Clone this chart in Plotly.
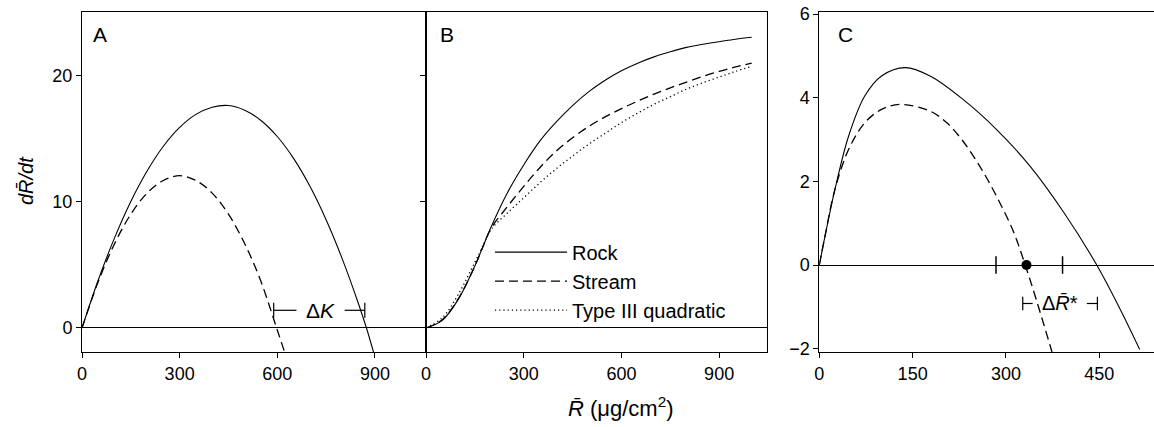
import plotly.graph_objects as go

# ---------------- data ----------------
# Panel A: logistic growth curves
A_R_rock = [0, 50, 100, 150, 200, 250, 300, 350, 400, 450, 500, 550, 600, 650, 700, 750, 800, 850, 875, 900]
A_rock = [0, 3.80, 7.13, 10.01, 12.42, 14.38, 15.87, 16.90, 17.47, 17.60, 17.23, 16.42, 15.15, 13.42, 11.23, 8.57, 5.45, 1.88, -0.08, -2.3]
A_R_stream = [0, 50, 100, 150, 200, 250, 300, 350, 400, 450, 500, 550, 598, 625]
A_stream = [0, 3.67, 6.67, 9.0, 10.67, 11.67, 12.05, 11.67, 10.67, 9.0, 6.67, 3.67, 0, -2.1]

# Panel B: functional responses
B_R = [0, 50, 100, 150, 175, 200, 250, 300, 350, 400, 450, 500, 550, 600, 650, 700, 750, 800, 850, 900, 950, 1000]
B_rock = [0, 0.6, 2.3, 4.9, 6.45, 8.0, 10.7, 12.9, 14.8, 16.3, 17.6, 18.7, 19.6, 20.35, 20.95, 21.45, 21.85, 22.2, 22.45, 22.65, 22.85, 23.0]
B_stream = [0, 0.65, 2.35, 4.9, 6.45, 7.9, 9.6, 11.2, 12.7, 14.0, 15.05, 15.95, 16.7, 17.35, 17.95, 18.5, 19.0, 19.45, 19.9, 20.3, 20.65, 20.95]
B_type3 = [0, 0.8, 2.7, 5.2, 6.5, 7.8, 9.1, 10.3, 11.5, 12.6, 13.6, 14.55, 15.4, 16.25, 17.0, 17.7, 18.3, 18.9, 19.4, 19.85, 20.3, 20.7]

# Panel C: net growth with grazing
C_R_rock = [0, 9, 25, 47, 73, 100, 138, 178, 231, 285, 339, 392, 446, 483, 515]
C_rock = [0, 0.68, 1.8, 3.08, 4.04, 4.52, 4.72, 4.52, 3.96, 3.24, 2.36, 1.28, 0, -1.04, -2.02]
C_R_stream = [0, 9, 25, 47, 73, 100, 130, 178, 205, 231, 258, 285, 312, 331, 349, 374]
C_stream = [0, 0.68, 1.8, 2.76, 3.4, 3.72, 3.84, 3.68, 3.4, 2.96, 2.36, 1.64, 0.8, 0, -0.84, -2.08]
C_eq_R = [333]
C_eq_val = [0]
C_ci = [284, 391]          # interval ticks on the zero line

A_xticks = [0, 300, 600, 900]
B_xticks = [0, 300, 600, 900]
C_xticks = [0, 150, 300, 450]
AB_yticks = [0, 10, 20]
C_yticks = [-2, 0, 2, 4, 6]

# ---------------- figure ----------------
FONT = "Liberation Sans, Arial, Helvetica, sans-serif"
BLK = "black"
thin = 1.1
dash_pat = "9px,5px"
dot_pat = "1.2px,3px"

# plot area spans page px x 82..1154, y 12..352 (page body margin removed below)
W, H = 1154, 427
PL, PT, PW, PH = 82, 12, 1072, 340

fig = go.Figure()

fig.add_trace(go.Scatter(x=A_R_rock, y=A_rock, mode="lines", line=dict(color=BLK, width=thin, shape="spline"),
                         xaxis="x", yaxis="y", showlegend=False))
fig.add_trace(go.Scatter(x=A_R_stream, y=A_stream, mode="lines",
                         line=dict(color=BLK, width=1.3, dash=dash_pat, shape="spline"),
                         xaxis="x", yaxis="y", showlegend=False))
fig.add_trace(go.Scatter(x=B_R, y=B_rock, mode="lines", name="Rock",
                         line=dict(color=BLK, width=thin, shape="spline"), xaxis="x2", yaxis="y2"))
fig.add_trace(go.Scatter(x=B_R, y=B_stream, mode="lines", name="Stream",
                         line=dict(color=BLK, width=1.3, dash=dash_pat, shape="spline"), xaxis="x2", yaxis="y2"))
fig.add_trace(go.Scatter(x=B_R, y=B_type3, mode="lines", name="Type III quadratic",
                         line=dict(color=BLK, width=1.3, dash=dot_pat, shape="spline"), xaxis="x2", yaxis="y2"))
fig.add_trace(go.Scatter(x=C_R_rock, y=C_rock, mode="lines", line=dict(color=BLK, width=thin, shape="spline"),
                         xaxis="x3", yaxis="y3", showlegend=False))
fig.add_trace(go.Scatter(x=C_R_stream, y=C_stream, mode="lines",
                         line=dict(color=BLK, width=1.3, dash=dash_pat, shape="spline"),
                         xaxis="x3", yaxis="y3", showlegend=False))
fig.add_trace(go.Scatter(x=C_eq_R, y=C_eq_val, mode="markers", marker=dict(color=BLK, size=10),
                         xaxis="x3", yaxis="y3", showlegend=False))

axis_common = dict(showline=True, linecolor=BLK, linewidth=1, ticks="outside", ticklen=5, tickwidth=1,
                   tickcolor=BLK, showgrid=False, zeroline=False, automargin=False,
                   ticklabeloverflow="allow",
                   tickfont=dict(family=FONT, size=18, color=BLK))
zl = {"zeroline": True, "zerolinecolor": BLK, "zerolinewidth": 1}

fig.update_layout(
    width=W, height=H,
    margin=dict(l=PL, r=W - PL - PW, t=PT, b=H - PT - PH, autoexpand=False),
    paper_bgcolor="white", plot_bgcolor="white",
    font=dict(family=FONT, size=18, color=BLK),
    xaxis=dict(domain=[0, 0.3209], range=[0, 1057], tickvals=A_xticks, mirror=True, anchor="y", **axis_common),
    xaxis2=dict(domain=[0.3209, 0.639], range=[0, 1047], tickvals=B_xticks, mirror=True, anchor="y2", **axis_common),
    xaxis3=dict(domain=[0.6878, 1.0], range=[0, 538], tickvals=C_xticks, mirror=True, anchor="y3", **axis_common),
    yaxis=dict(domain=[0, 1], range=[-1.9, 25.0], tickvals=AB_yticks, mirror=True, anchor="x",
               **{**axis_common, **zl}),
    yaxis2=dict(domain=[0, 1], range=[-1.9, 25.0], tickvals=AB_yticks, mirror=True, anchor="x2",
                showticklabels=False, **{**axis_common, **zl}),
    yaxis3=dict(domain=[0, 1], range=[-2.08, 6.05], tickvals=C_yticks, mirror=False, anchor="x3",
                **{**axis_common, **zl, "zerolinewidth": 1.3}),
    legend=dict(x=(490 - PL) / PW, y=0.351, xanchor="left", yanchor="top", bgcolor="rgba(0,0,0,0)",
                font=dict(family=FONT, size=20, color=BLK), itemwidth=72, tracegroupgap=0),
)


def px(xp):
    return (xp - PL) / PW


def py(yp):
    return (PT + PH - yp) / PH


ann = []
for txt, xp, yp in [("A", 100, 34), ("B", 447, 35), ("C", 845, 34.5)]:
    ann.append(dict(text=txt, x=px(xp), y=py(yp), xref="paper", yref="paper",
                    showarrow=False, xanchor="center", yanchor="middle",
                    font=dict(family=FONT, size=21, color=BLK)))
ann.append(dict(text="<i>dR̄/dt</i>", x=px(26), y=py(181), xref="paper", yref="paper",
                showarrow=False, textangle=-90, xanchor="center", yanchor="middle",
                font=dict(family=FONT, size=20, color=BLK)))
ann.append(dict(text="<i>R̄</i> (μg/cm<sup>2</sup>)", x=px(621), y=py(407),
                xref="paper", yref="paper", showarrow=False, xanchor="center", yanchor="middle",
                font=dict(family=FONT, size=22, color=BLK)))
dK_left, dK_right, dK_y = 589, 869, 1.4
ann.append(dict(text="Δ<i>K</i>", x=734, y=dK_y, xref="x", yref="y", showarrow=False,
                xanchor="center", yanchor="middle", font=dict(family=FONT, size=21, color=BLK)))
dR_left, dR_right, dR_y = 327, 447, -0.92
ann.append(dict(text="Δ<i>R̄</i>*", x=387, y=dR_y, xref="x3", yref="y3", showarrow=False,
                xanchor="center", yanchor="middle", font=dict(family=FONT, size=20, color=BLK)))

shapes = []
ln = dict(color=BLK, width=1.2)
shapes += [
    dict(type="line", xref="x", yref="y", x0=dK_left, x1=dK_left, y0=dK_y - 0.6, y1=dK_y + 0.6, line=ln),
    dict(type="line", xref="x", yref="y", x0=dK_left, x1=659, y0=dK_y, y1=dK_y, line=ln),
    dict(type="line", xref="x", yref="y", x0=807, x1=dK_right, y0=dK_y, y1=dK_y, line=ln),
    dict(type="line", xref="x", yref="y", x0=dK_right, x1=dK_right, y0=dK_y - 0.6, y1=dK_y + 0.6, line=ln),
]
shapes += [
    dict(type="line", xref="x3", yref="y3", x0=dR_left, x1=dR_left, y0=dR_y - 0.16, y1=dR_y + 0.16, line=ln),
    dict(type="line", xref="x3", yref="y3", x0=dR_left, x1=343, y0=dR_y, y1=dR_y, line=ln),
    dict(type="line", xref="x3", yref="y3", x0=430, x1=dR_right, y0=dR_y, y1=dR_y, line=ln),
    dict(type="line", xref="x3", yref="y3", x0=dR_right, x1=dR_right, y0=dR_y - 0.16, y1=dR_y + 0.16, line=ln),
]
for v in C_ci:
    shapes.append(dict(type="line", xref="x3", yref="y3", x0=v, x1=v, y0=-0.21, y1=0.21,
                       line=dict(color=BLK, width=1.5)))

fig.update_layout(annotations=ann, shapes=shapes)
fig.write_html("out.html", config={"displayModeBar": False},
               post_script="document.body.style.margin='0px';")
